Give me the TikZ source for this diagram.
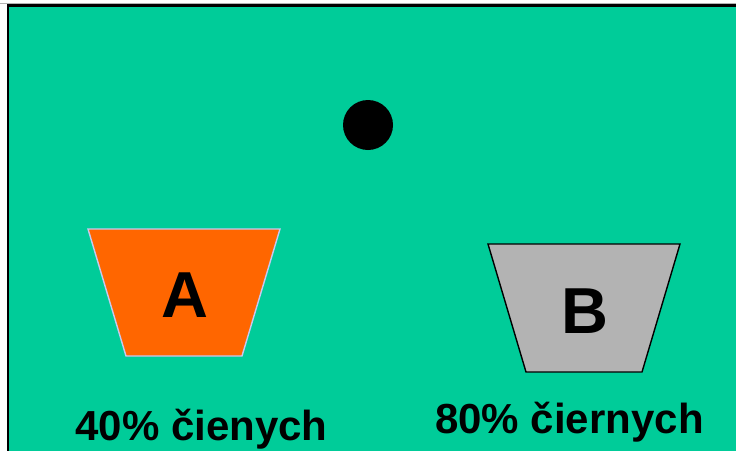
\documentclass[tikz,border=0pt]{standalone}
\usepackage{fontspec}
\setmainfont{Liberation Sans}
\definecolor{bggreen}{HTML}{00CC99}
\definecolor{orangeA}{HTML}{FF6600}
\definecolor{grayB}{HTML}{B3B3B3}
\definecolor{lavender}{HTML}{C8C8F0}
\begin{document}
\begin{tikzpicture}[x=1pt,y=-1pt,
  bigletter/.style={font=\fontsize{65}{65}\selectfont\bfseries, anchor=base, inner sep=0pt},
  caption/.style={font=\fontsize{42}{42}\selectfont\bfseries, anchor=base, inner sep=0pt}]
\useasboundingbox (0,0) rectangle (736,450);
\begin{scope}
\clip (0,0) rectangle (736,450);
\fill[white] (0,0) rectangle (736,450);
\draw[gray!60, line width=1pt] (0,3.5) -- (736,3.5);
\draw[fill=bggreen, draw=black, line width=2.2pt] (8,5.5) rectangle (760,470);
\end{scope}
% ball
\fill[black] (368,125) circle (25);
% container A
\draw[fill=orangeA, draw=lavender, line width=1.4pt] (88,229) -- (280,229) -- (242,356) -- (126,356) -- cycle;
\node[bigletter] (a) at (184.5,317) {A};
% container B
\draw[fill=grayB, draw=black, line width=1.4pt] (488,244) -- (680,244) -- (642,372) -- (526,372) -- cycle;
\node[bigletter] (b) at (584.5,333) {B};
% captions
\node[caption] (ta) at (201.5,440) {40\% čienych};
\node[caption] (tb) at (569.5,433) {80\% čiernych};
\end{tikzpicture}
\end{document}
